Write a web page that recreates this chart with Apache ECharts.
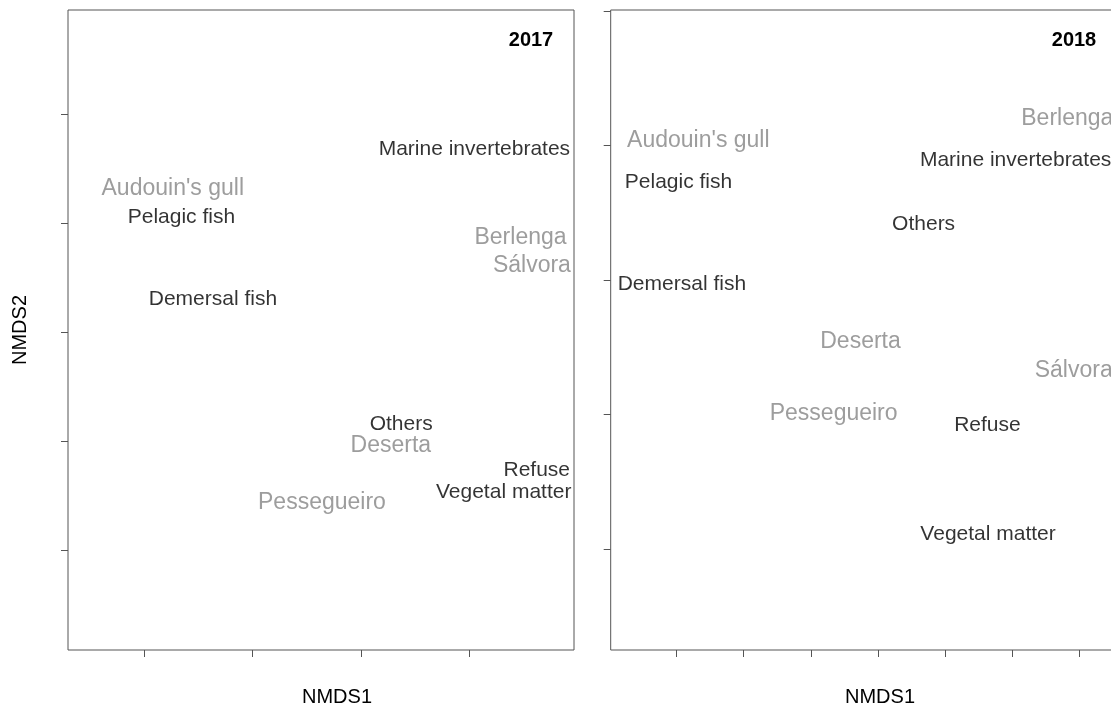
<!DOCTYPE html>
<html>
<head>
<meta charset="utf-8">
<script src="https://cdn.jsdelivr.net/npm/echarts@6/dist/echarts.min.js"></script>
<style>
  html, body { margin: 0; padding: 0; overflow: hidden; background: #fff; }
  #chart { width: 1117px; height: 708px; }
</style>
</head>
<body>
<div id="chart"></div>
<script>
// NMDS ordination of diet (prey groups) and colonies, two sampling years.
const preyNames = ['Marine invertebrates', 'Pelagic fish', 'Demersal fish', 'Others', 'Refuse', 'Vegetal matter'];
const siteNames = ["Audouin's gull", 'Berlenga', 'Sálvora', 'Deserta', 'Pessegueiro'];

// 2017 scores
const prey2017X = [0.209, -0.331, -0.273, 0.074, 0.324, 0.263];
const prey2017Y = [0.336, 0.212, 0.061, -0.168, -0.252, -0.292];
const site2017X = [-0.347, 0.294, 0.315, 0.055, -0.072];
const site2017Y = [0.263, 0.174, 0.122, -0.208, -0.312];

// 2018 scores
const prey2018X = [0.205, -0.297, -0.292, 0.068, 0.163, 0.164];
const prey2018Y = [0.178, 0.146, -0.006, 0.083, -0.216, -0.378];
const site2018X = [-0.2675, 0.282, 0.2915, -0.026, -0.066];
const site2018Y = [0.207, 0.240, -0.135, -0.092, -0.199];

// axis ranges and tick marks
const xRange2017 = [-0.5401, 0.3926];
const yRange2017 = [-0.5820, 0.5912];
const xTicks2017 = [-0.4, -0.2, 0, 0.2];
const yTicks2017 = [-0.4, -0.2, 0, 0.2, 0.4];

const xRange2018 = [-0.398, 0.356];
const yRange2018 = [-0.5502, 0.4015];
const xTicks2018 = [-0.3, -0.2, -0.1, 0, 0.1, 0.2, 0.3];
const yTicks2018 = [-0.4, -0.2, 0, 0.2, 0.4];

const FONT = "'Liberation Sans', Arial, Helvetica, sans-serif";
const FRAME = '#555555';
const GREY = '#858585';

function points(names, xs, ys) {
  return names.map((n, i) => ({ name: n, value: [xs[i], ys[i]] }));
}

function labelSeries(idx, data, color, size) {
  return {
    type: 'scatter',
    xAxisIndex: idx,
    yAxisIndex: idx,
    data: data,
    symbolSize: 1,
    itemStyle: { color: 'transparent' },
    silent: true,
    label: {
      show: true,
      position: 'inside',
      formatter: p => p.name,
      color: color,
      fontSize: size,
      fontFamily: FONT
    },
    emphasis: { disabled: true }
  };
}

function axisFor(idx, range, ticks, pos) {
  return {
    type: 'value', gridIndex: idx, min: range[0], max: range[1], position: pos,
    axisLine: { show: false, onZero: false },
    axisTick: { show: true, inside: false, length: 7, customValues: ticks, lineStyle: { color: FRAME, width: 1 } },
    axisLabel: { show: false },
    splitLine: { show: false }
  };
}

function titleText(x, y, text, opts) {
  return Object.assign({
    type: 'text', x: x, y: y, silent: true,
    style: Object.assign({
      text: text, fill: '#000', font: '20px ' + FONT,
      textAlign: 'center', textVerticalAlign: 'middle'
    }, opts && opts.style)
  }, opts && opts.el);
}

const chart = echarts.init(document.getElementById('chart'), null, { renderer: 'canvas' });

chart.setOption({
  animation: false,
  backgroundColor: '#ffffff',
  grid: [
    { left: 68, top: 10, width: 506, height: 640, show: true, borderColor: FRAME, borderWidth: 1, backgroundColor: 'transparent' },
    { left: 610.7, top: 10, width: 506.3, height: 640, show: true, borderColor: FRAME, borderWidth: 1, backgroundColor: 'transparent' }
  ],
  xAxis: [axisFor(0, xRange2017, xTicks2017, 'bottom'), axisFor(1, xRange2018, xTicks2018, 'bottom')],
  yAxis: [axisFor(0, yRange2017, yTicks2017, 'left'), axisFor(1, yRange2018, yTicks2018, 'left')],
  series: [
    labelSeries(0, points(siteNames, site2017X, site2017Y), GREY, 23),
    labelSeries(0, points(preyNames, prey2017X, prey2017Y), '#000', 21),
    labelSeries(1, points(siteNames, site2018X, site2018Y), GREY, 23),
    labelSeries(1, points(preyNames, prey2018X, prey2018Y), '#000', 21)
  ],
  graphic: [
    titleText(531, 40, '2017', { style: { font: 'bold 20px ' + FONT } }),
    titleText(1074, 40, '2018', { style: { font: 'bold 20px ' + FONT } }),
    titleText(20, 330, 'NMDS2', { el: { rotation: Math.PI / 2 } }),
    titleText(337, 697, 'NMDS1'),
    titleText(880, 697, 'NMDS1')
  ]
});
</script>
</body>
</html>
